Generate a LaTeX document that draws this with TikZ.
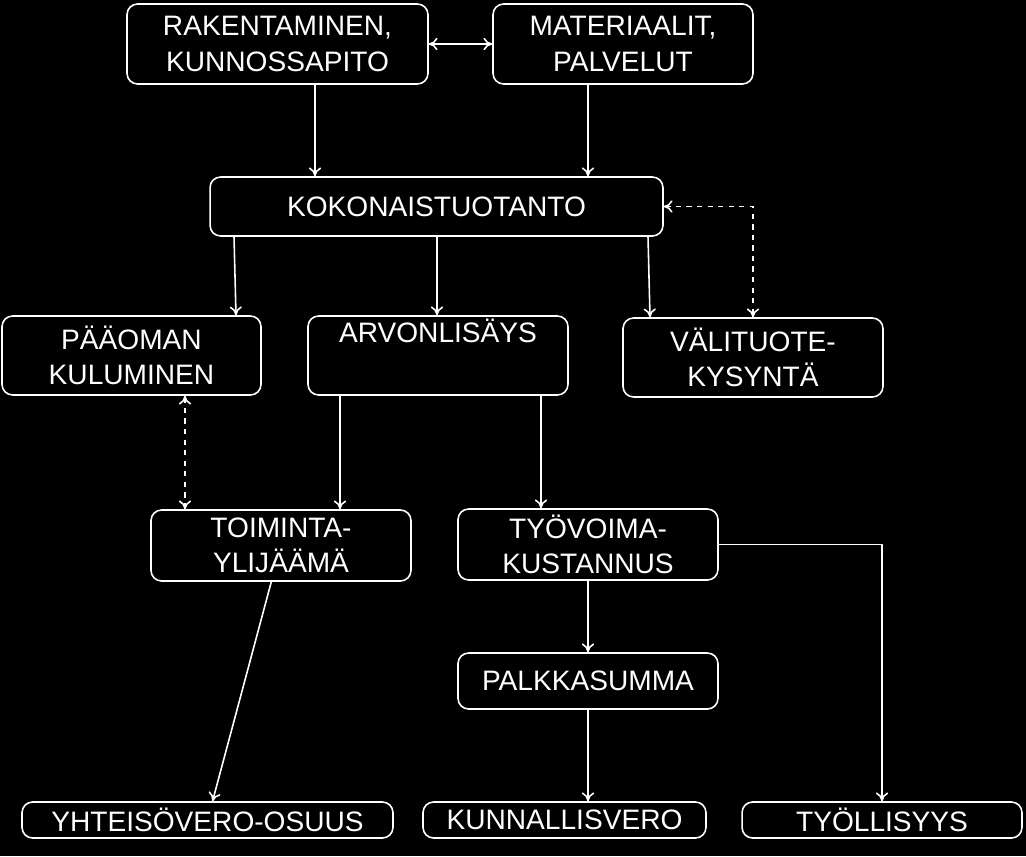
\documentclass[tikz,border=0pt]{standalone}
\usepackage{fontspec}
\setmainfont{Liberation Sans}
\usetikzlibrary{arrows.meta}
\tikzset{
  box/.style={draw=white,line width=0.9pt,rounded corners=6pt,text=white,align=center,
    inner sep=0pt,font=\fontsize{16}{20}\selectfont},
  arr/.style={draw=white,line width=0.9pt,-{To[length=5pt,width=7pt]}},
  darr/.style={arr,dashed,{To[length=5pt,width=7pt]}-{To[length=5pt,width=7pt]}}
}
\begin{document}
\begin{tikzpicture}[x=0.02cm,y=-0.02cm]
\fill[black] (0,0) rectangle (1026,856);
\node[box,minimum width=6.02cm,minimum height=1.6cm] (rak) at (277.5,44) {RAKENTAMINEN,\\KUNNOSSAPITO};
\node[box,minimum width=5.2cm,minimum height=1.6cm] (mat) at (623,44) {MATERIAALIT,\\PALVELUT};
\node[box,minimum width=9.06cm,minimum height=1.18cm] (kok) at (436.5,206.5) {KOKONAISTUOTANTO};
\node[box,minimum width=5.18cm,minimum height=1.58cm] (paa) at (131.5,355.5) {PÄÄOMAN\\KULUMINEN};
\node[box,minimum width=5.2cm,minimum height=1.58cm] (arv) at (438,355.5) {ARVONLISÄYS\\[8pt]};
\node[box,minimum width=5.2cm,minimum height=1.58cm] (val) at (753,357.5) {VÄLITUOTE-\\KYSYNTÄ};
\node[box,minimum width=5.2cm,minimum height=1.42cm] (toi) at (281,545.5) {TOIMINTA-\\YLIJÄÄMÄ};
\node[box,minimum width=5.2cm,minimum height=1.42cm] (tyo) at (588,544.5) {TYÖVOIMA-\\KUSTANNUS};
\node[box,minimum width=5.2cm,minimum height=1.12cm] (pal) at (588,681) {PALKKASUMMA};
\node[box,minimum width=7.42cm,minimum height=0.72cm] (yht) at (207.5,820) {YHTEISÖVERO-OSUUS};
\node[box,minimum width=5.66cm,minimum height=0.72cm] (kun) at (564.5,820) {KUNNALLISVERO};
\node[box,minimum width=5.6cm,minimum height=0.72cm] (tyl) at (882,820) {TYÖLLISYYS};
% connectors
\draw[arr,{To[length=5pt,width=7pt]}-{To[length=5pt,width=7pt]}] (rak) -- (mat);
\draw[arr] (rak.south -| 315,0) -- (kok.north -| 315,0);
\draw[arr] (mat.south -| 588,0) -- (kok.north -| 588,0);
\draw[arr] (kok.south -| 234,0) -- (paa.north -| 236,0);
\draw[arr] (kok.south -| 437,0) -- (arv.north -| 437,0);
\draw[arr] (kok.south -| 648,0) -- (val.north -| 650,0);
\draw[darr] (kok.east) -| (val.north);
\draw[darr] (paa.south -| 185,0) -- (toi.north -| 185,0);
\draw[arr] (arv.south -| 340,0) -- (toi.north -| 340,0);
\draw[arr] (arv.south -| 541,0) -- (tyo.north -| 541,0);
\draw[arr] (toi) -- (yht);
\draw[arr] (tyo) -- (pal);
\draw[arr] (pal) -- (kun.north -| pal);
\draw[arr] (tyo.east) -| (tyl.north);
\end{tikzpicture}
\end{document}
